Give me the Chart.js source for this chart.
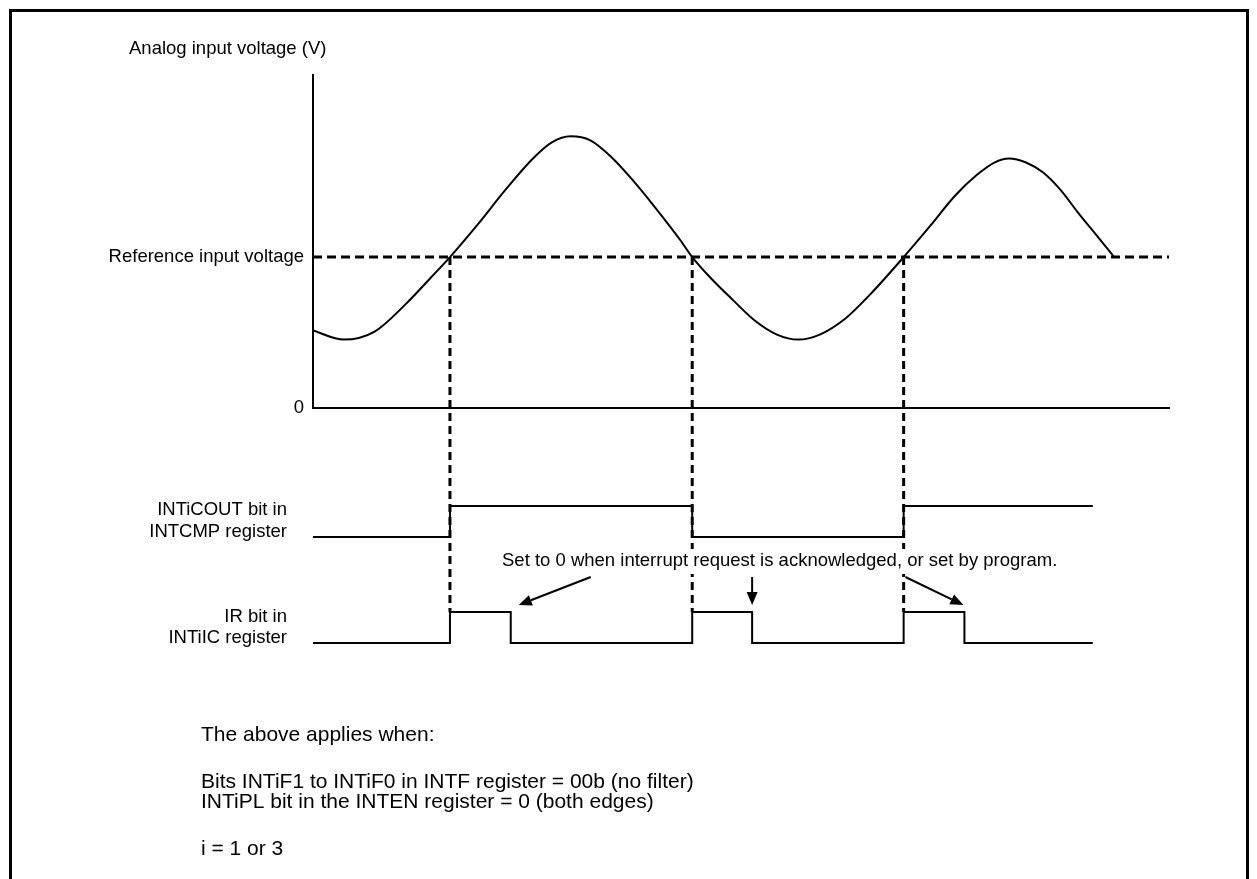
<!DOCTYPE html>
<html>
<head>
<meta charset="utf-8">
<script src="https://cdn.jsdelivr.net/npm/chart.js@4.4.1/dist/chart.umd.min.js"></script>
<style>
  html, body { margin: 0; padding: 0; background: #fff; overflow: hidden; }
  #frame { position: absolute; left: 9px; top: 9px; width: 1240px; height: 1000px; border: 3px solid #000; box-sizing: border-box; }
  #timing { position: absolute; left: 0; top: 0; }
</style>
</head>
<body>
<div id="frame"></div>
<canvas id="timing" width="1257" height="879"></canvas>
<script>
// tijd-as (willekeurige eenheden) en spanningen zoals
const T_ANALOG = [0, 3.6, 7.2, 10.8, 13.7, 16.0, 19.3, 22.4, 25.7, 27.9, 30.1, 32.4, 34.9, 37.4, 40.0, 42.9, 44.3, 46.6, 49.1, 51.6, 54.2, 56.7, 59.2, 62.2, 65.1, 69.0, 72.1, 75.0, 77.6, 79.6, 81.3, 83.3, 85.3, 87.3, 89.3, 91.4, 93.6];
const V_ANALOG = [0.77, 0.68, 0.76, 1.03, 1.29, 1.50, 1.83, 2.16, 2.48, 2.64, 2.70, 2.66, 2.49, 2.26, 1.99, 1.67, 1.50, 1.28, 1.07, 0.87, 0.73, 0.68, 0.73, 0.89, 1.13, 1.50, 1.81, 2.11, 2.32, 2.44, 2.48, 2.44, 2.34, 2.17, 1.95, 1.73, 1.50];
const VREF = 1.5;
const V_TOP = 3.31;
const T_END = 100;

// INTiCOUT bit (INTCMP)
const T_COUT = [0, 16.0, 44.3, 69.0, 91.1];
const L_COUT = [0, 1, 0, 1, 1];

// IR bit (INTiIC)
const T_IR = [0, 16.0, 23.1, 44.3, 51.3, 69.0, 76.1, 91.1];
const L_IR = [0, 1, 0, 1, 0, 1, 0, 0];

// momenten waarop de spanning de referentie kruist
const CROSSINGS = [16.0, 44.3, 69.0];

const Y_LABELS = { 0: "0", [VREF]: "Reference input voltage" };
const ROW_LABELS = {
    cout: ["INTiCOUT bit in", "INTCMP register"],
    ir: ["IR bit in", "INTiIC register"]
};
const NOTE = "Set to 0 when interrupt request is acknowledged, or set by program.";
const FOOTNOTES = [
    "The above applies when:",
    "Bits INTiF1 to INTiF0 in INTF register = 00b (no filter)",
    "INTiPL bit in the INTEN register = 0 (both edges)",
    "i = 1 or 3"
];

const FONT = '"Liberation Sans", Arial, sans-serif';

// plotgebied voor de analoge grafiek (pixels)
const PLOT_TOP = 75, PLOT_BOTTOM = 408, PLOT_LEFT = 313, PLOT_RIGHT = 1169;

// verborgen schaal voor een digitale rij: niveau 0 en 1 op vaste hoogte
function rowScale(lowPx, highPx) {
    const unit = lowPx - highPx;
    const h = PLOT_BOTTOM - PLOT_TOP;
    const min = (lowPx - PLOT_BOTTOM) / unit;
    return { type: 'linear', display: false, min: min, max: min + h / unit };
}

function toPoints(xs, ys) {
    return xs.map((t, i) => ({ x: t, y: ys[i] }));
}

function arrow(ctx, x1, y1, x2, y2) {
    const a = Math.atan2(y2 - y1, x2 - x1);
    const len = 13, w = 5.5;
    const bx = x2 - len * Math.cos(a), by = y2 - len * Math.sin(a);
    ctx.beginPath();
    ctx.moveTo(x1, y1);
    ctx.lineTo(bx, by);
    ctx.stroke();
    ctx.beginPath();
    ctx.moveTo(x2, y2);
    ctx.lineTo(bx + w * Math.sin(a), by - w * Math.cos(a));
    ctx.lineTo(bx - w * Math.sin(a), by + w * Math.cos(a));
    ctx.closePath();
    ctx.fill();
}

const diagramExtras = {
    id: 'diagramExtras',
    afterDatasetsDraw(chart) {
        const { ctx, scales } = chart;
        const x = scales.x, y = scales.y, yc = scales.yCout, yi = scales.yIr;
        ctx.save();
        ctx.strokeStyle = '#000';
        ctx.fillStyle = '#000';

        // verticale stippellijnen bij de kruispunten
        ctx.lineWidth = 3;
        ctx.setLineDash([8, 5]);
        CROSSINGS.forEach(t => {
            const px = x.getPixelForValue(t);
            ctx.beginPath();
            ctx.moveTo(px, y.getPixelForValue(VREF));
            ctx.lineTo(px, yi.getPixelForValue(1));
            ctx.stroke();
        });
        ctx.setLineDash([]);

        // witte achtergrond achter de toelichting (onderbreekt de stippellijnen)
        ctx.font = '18.5px ' + FONT;
        const noteW = ctx.measureText(NOTE).width;
        ctx.fillStyle = '#fff';
        ctx.fillRect(500, 549, noteW + 4, 25);
        ctx.fillStyle = '#000';

        // pijlen naar de dalende flanken van IR
        const falls = [];
        for (let i = 1; i < L_IR.length; i++) {
            if (L_IR[i - 1] === 1 && L_IR[i] === 0) falls.push(T_IR[i]);
        }
        const tails = [[72, -28, 8], [0, -28, 0], [-58, -28, -1]];
        ctx.lineWidth = 2;
        const hi = yi.getPixelForValue(1);
        falls.forEach((t, i) => {
            const [dx, dy, off] = tails[i];
            const tx = x.getPixelForValue(t) + off, ty = hi - 7;
            arrow(ctx, tx + dx, ty + dy, tx, ty);
        });

        // teksten
        ctx.textBaseline = 'middle';
        ctx.textAlign = 'left';
        ctx.fillText("Analog input voltage (V)", 129, 49);
        ctx.fillText(NOTE, 502, 561);

        ctx.textAlign = 'right';
        const cHi = yc.getPixelForValue(1), cLo = yc.getPixelForValue(0);
        ctx.fillText(ROW_LABELS.cout[0], 287, cHi + 4);
        ctx.fillText(ROW_LABELS.cout[1], 287, cLo - 5);
        const iHi = yi.getPixelForValue(1), iLo = yi.getPixelForValue(0);
        ctx.fillText(ROW_LABELS.ir[0], 287, iHi + 5);
        ctx.fillText(ROW_LABELS.ir[1], 287, iLo - 5);

        ctx.textAlign = 'left';
        ctx.font = '21px ' + FONT;
        const footY = [735, 782, 802, 849];
        FOOTNOTES.forEach((line, i) => ctx.fillText(line, 201, footY[i]));
        ctx.restore();
    }
};

const lineStyle = { borderColor: '#000', borderWidth: 2, pointRadius: 0, fill: false };

new Chart(document.getElementById('timing').getContext('2d'), {
    type: 'line',
    data: {
        datasets: [
            { ...lineStyle, label: 'Analog', yAxisID: 'y', data: toPoints(T_ANALOG, V_ANALOG), cubicInterpolationMode: 'monotone' },
            { ...lineStyle, label: 'Reference', yAxisID: 'y', data: toPoints([0, T_END], [VREF, VREF]), borderWidth: 3, borderDash: [9, 5] },
            { ...lineStyle, label: 'INTiCOUT', yAxisID: 'yCout', data: toPoints(T_COUT, L_COUT), stepped: 'before', clip: false },
            { ...lineStyle, label: 'IR', yAxisID: 'yIr', data: toPoints(T_IR, L_IR), stepped: 'before', clip: false }
        ]
    },
    options: {
        responsive: false,
        animation: false,
        devicePixelRatio: 1,
        events: [],
        layout: { padding: { top: PLOT_TOP, right: 1257 - PLOT_RIGHT, bottom: 879 - PLOT_BOTTOM, left: 0 } },
        plugins: { legend: { display: false }, tooltip: { enabled: false } },
        scales: {
            x: {
                type: 'linear', min: 0, max: T_END,
                grid: { display: false, drawTicks: false },
                border: { display: true, color: '#000', width: 2 },
                ticks: { display: false },
                afterFit: s => { s.height = 0; }
            },
            y: {
                type: 'linear', min: 0, max: V_TOP,
                grid: { display: false, drawTicks: false },
                border: { display: true, color: '#000', width: 2 },
                afterBuildTicks: s => { s.ticks = [{ value: 0 }, { value: VREF }]; },
                ticks: {
                    color: '#000', padding: 9,
                    font: { family: FONT, size: 18.5 },
                    callback: v => Y_LABELS[v] ?? ''
                },
                afterFit: s => { s.width = PLOT_LEFT; }
            },
            yCout: rowScale(537, 506),
            yIr: rowScale(643, 612)
        }
    },
    plugins: [diagramExtras]
});
</script>
</body>
</html>
